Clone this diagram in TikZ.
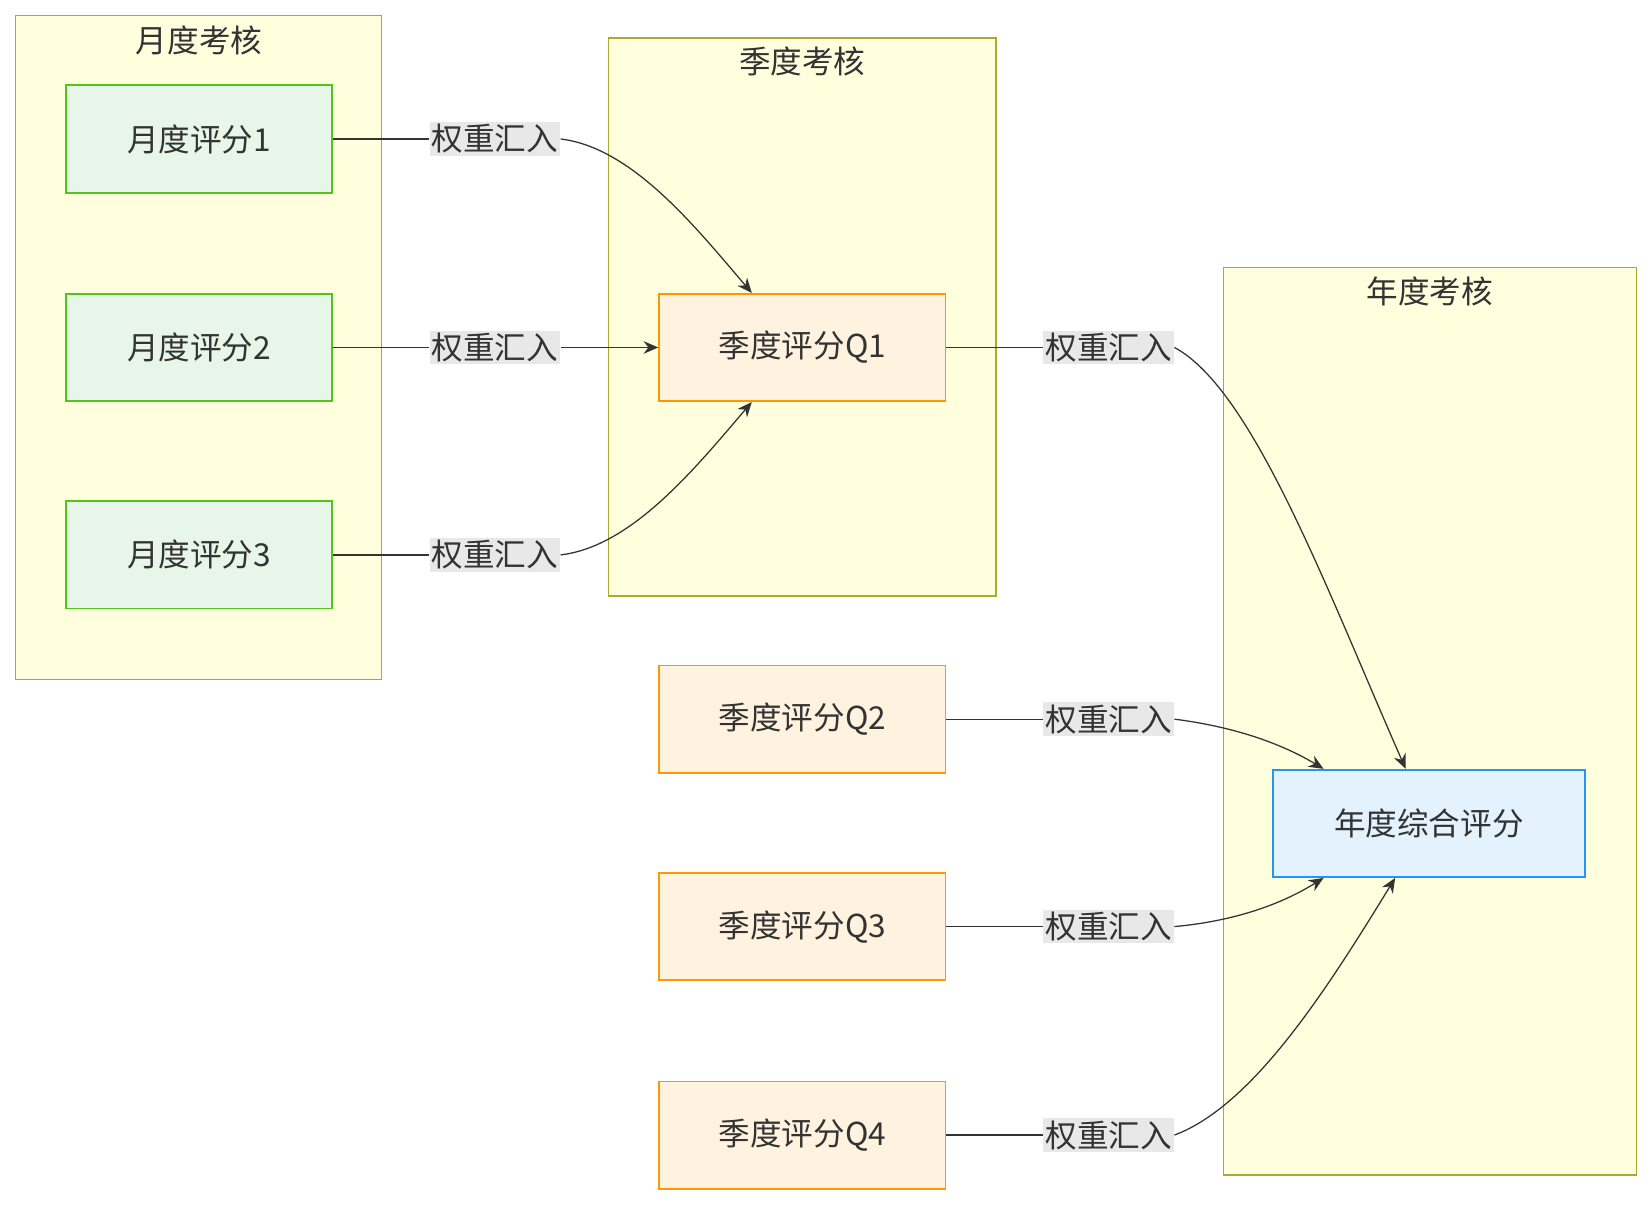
\documentclass[tikz,border=0pt]{standalone}
\usepackage{fontspec}
\setmainfont{Noto Sans CJK SC}
\usetikzlibrary{calc,arrows.meta}
\definecolor{clfill}{HTML}{FFFFDE}
\definecolor{cldraw}{HTML}{AAAA33}
\definecolor{gfill}{HTML}{E8F5E9}
\definecolor{gdraw}{HTML}{52C41A}
\definecolor{ofill}{HTML}{FFF3E0}
\definecolor{odraw}{HTML}{FF9800}
\definecolor{bfill}{HTML}{E3F2FD}
\definecolor{bdraw}{HTML}{2196F3}
\definecolor{lbl}{HTML}{E8E8E8}
\definecolor{txt}{HTML}{333333}
\begin{document}
\begin{tikzpicture}
	    [x=0.5pt, y=-0.5pt, font=\fontsize{15pt}{17pt}\selectfont, text=txt,
	     cluster/.style={fill=clfill, draw=cldraw, line width=0.6pt},
	     month/.style={rectangle, fill=gfill, draw=gdraw, line width=0.8pt, minimum width=126pt, minimum height=51pt},
	     quarter/.style={rectangle, fill=ofill, draw=odraw, line width=0.8pt, minimum width=136pt, minimum height=51pt},
	     year/.style={rectangle, fill=bfill, draw=bdraw, line width=0.8pt, minimum width=148pt, minimum height=51pt},
	     weight/.style={fill=lbl, inner sep=1pt},
	     link/.style={draw=txt, line width=0.6pt},
	     arr/.style={link, -{Stealth[length=7pt,width=6pt]}}]
	    \useasboundingbox (0,0) rectangle (1568,1145);
	    % clusters
	    \draw[cluster] (15,15) rectangle (362,645);
	    \draw[cluster] (578,36) rectangle (946,566);
	    \draw[cluster] (1162,254) rectangle (1554,1116);
	    \node (t1) at (189,38)  {月度考核};
	    \node (t2) at (762,58)  {季度考核};
	    \node (t3) at (1358,277) {年度考核};
	    % nodes
	    \node[month]   (m1) at (189,132)  {月度评分1};
	    \node[month]   (m2) at (189,330)  {月度评分2};
	    \node[month]   (m3) at (189,527)  {月度评分3};
	    \node[quarter] (q1) at (762,330)  {季度评分Q1};
	    \node[quarter] (q2) at (762,683)  {季度评分Q2};
	    \node[quarter] (q3) at (762,880)  {季度评分Q3};
	    \node[quarter] (q4) at (762,1078) {季度评分Q4};
	    \node[year]    (y)  at (1357,782) {年度综合评分};
	    % labels
	    \node[weight] (w1) at (470,132)  {权重汇入};
	    \node[weight] (w2) at (470,330)  {权重汇入};
	    \node[weight] (w3) at (470,527)  {权重汇入};
	    \node[weight] (w4) at (1053,330) {权重汇入};
	    \node[weight] (w5) at (1053,683) {权重汇入};
	    \node[weight] (w6) at (1053,880) {权重汇入};
	    \node[weight] (w7) at (1053,1078) {权重汇入};
	    \coordinate (q1n) at ($(q1.north)+(-48,0)$);
	    \coordinate (q1s) at ($(q1.south)+(-48,0)$);
	    \coordinate (yn1) at ($(y.north)+(-22,0)$);
	    \coordinate (yn2) at ($(y.north)+(-100,0)$);
	    \coordinate (ys1) at ($(y.south)+(-100,0)$);
	    \coordinate (ys2) at ($(y.south)+(-32,0)$);
	    % connectors
	    \draw[link] (m1) -- (w1);
	    \draw[link] (m2) -- (w2);
	    \draw[link] (m3) -- (w3);
	    \draw[link] (q1) -- (w4);
	    \draw[link] (q2) -- (w5);
	    \draw[link] (q3) -- (w6);
	    \draw[link] (q4) -- (w7);
	    \draw[arr] (w1.east) .. controls (600,140) and (660,215) .. (q1n);
	    \draw[arr] (w2) -- (q1);
	    \draw[arr] (w3.east) .. controls (600,519) and (660,445) .. (q1s);
	    \draw[arr] (w4.east) .. controls (1190,370) and (1260,560) .. (yn1);
	    \draw[arr] (w5.east) .. controls (1170,690) and (1215,705) .. (yn2);
	    \draw[arr] (w6.east) .. controls (1170,875) and (1215,860) .. (ys1);
	    \draw[arr] (w7.east) .. controls (1190,1050) and (1260,940) .. (ys2);
	\end{tikzpicture}
\end{document}
